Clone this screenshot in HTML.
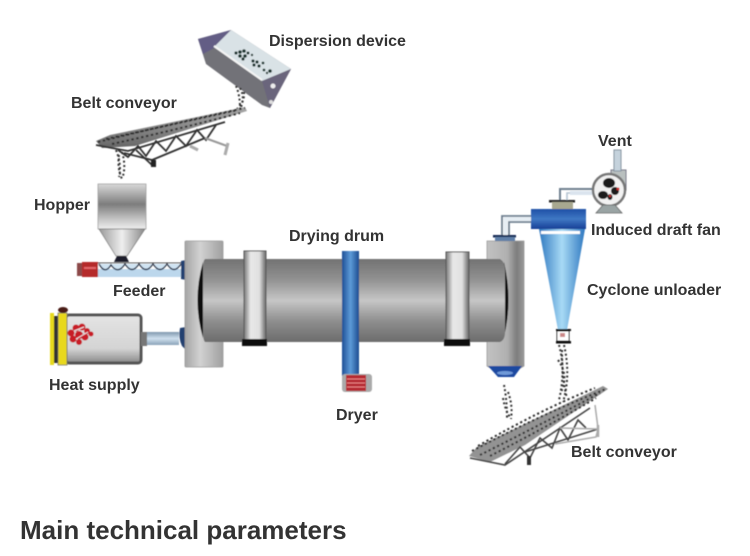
<!DOCTYPE html>
<html><head><meta charset="utf-8"><style>
html,body{margin:0;padding:0;background:#fff;width:750px;height:556px;overflow:hidden}
svg{display:block}
text{font-family:"Liberation Sans",sans-serif;font-weight:bold;fill:#333;font-size:16px}
</style></head><body>
<svg width="750" height="556" viewBox="0 0 750 556" xmlns="http://www.w3.org/2000/svg">
<defs>
<linearGradient id="drum" x1="0" y1="0" x2="0" y2="1"><stop offset="0" stop-color="#727272"/><stop offset=".25" stop-color="#929292"/><stop offset=".5" stop-color="#c6c6c6"/><stop offset=".75" stop-color="#8e8e8e"/><stop offset="1" stop-color="#6c6c6c"/></linearGradient>
<linearGradient id="flangeL" x1="0" y1="0" x2="1" y2="0"><stop offset="0" stop-color="#a5a5a5"/><stop offset=".4" stop-color="#d2d2d2"/><stop offset="1" stop-color="#a0a0a0"/></linearGradient>
<linearGradient id="flangeR" x1="0" y1="0" x2="1" y2="0"><stop offset="0" stop-color="#c2c2c2"/><stop offset=".55" stop-color="#b0b0b0"/><stop offset=".8" stop-color="#7d7d7d"/><stop offset="1" stop-color="#9a9a9a"/></linearGradient>
<linearGradient id="ring" x1="0" y1="0" x2="1" y2="0"><stop offset="0" stop-color="#777"/><stop offset=".3" stop-color="#e8e8e8"/><stop offset=".7" stop-color="#e0e0e0"/><stop offset="1" stop-color="#666"/></linearGradient>
<linearGradient id="blueRing" x1="0" y1="0" x2="1" y2="0"><stop offset="0" stop-color="#1f4f96"/><stop offset=".5" stop-color="#5d9bd8"/><stop offset="1" stop-color="#1d4c90"/></linearGradient>
<linearGradient id="cone" x1="0" y1="0" x2="1" y2="0"><stop offset="0" stop-color="#2f78c0"/><stop offset=".5" stop-color="#a8daf5"/><stop offset="1" stop-color="#2f78c0"/></linearGradient>
<linearGradient id="coneV" x1="0" y1="0" x2="0" y2="1"><stop offset="0" stop-color="#1f4fa6"/><stop offset=".5" stop-color="#3f78c4"/><stop offset="1" stop-color="#173f96"/></linearGradient>
<linearGradient id="hopper" x1="0" y1="0" x2="0" y2="1"><stop offset="0" stop-color="#d8d8d8"/><stop offset=".45" stop-color="#7d7d7d"/><stop offset=".8" stop-color="#c8c8c8"/><stop offset="1" stop-color="#eee"/></linearGradient>
<linearGradient id="hopCone" x1="0" y1="0" x2="1" y2="0"><stop offset="0" stop-color="#999"/><stop offset=".5" stop-color="#eee"/><stop offset="1" stop-color="#888"/></linearGradient>
<linearGradient id="heat" x1="0" y1="0" x2="0" y2="1"><stop offset="0" stop-color="#e4e4e4"/><stop offset=".7" stop-color="#d4d4d4"/><stop offset="1" stop-color="#888"/></linearGradient>
<linearGradient id="pipe" x1="0" y1="0" x2="0" y2="1"><stop offset="0" stop-color="#7f97ad"/><stop offset=".5" stop-color="#cfe0ee"/><stop offset="1" stop-color="#8aa2b8"/></linearGradient>
<linearGradient id="belt" x1="0" y1="0" x2="0" y2="1"><stop offset="0" stop-color="#aaa"/><stop offset="1" stop-color="#666"/></linearGradient>
<filter id="soft"><feGaussianBlur stdDeviation=".5"/></filter>
</defs>

<g filter="url(#soft)">
<!-- dispersion device -->
<polygon points="198,39 231,30 291,69 270,108 262,105 206,64" fill="#727278"/>
<polygon points="198,39 231,30 216,47 203,54" fill="#635d85"/>
<polygon points="231,30 291,69 262,81 214,47" fill="#d9e2e6"/>
<polygon points="262,81 291,69 270,108" fill="#6a657c"/>
<line x1="214" y1="46" x2="262" y2="80" stroke="#f4f4f4" stroke-width="2"/>
<g fill="#14302a"><circle cx="236" cy="53" r="1.6"/><circle cx="240" cy="52" r="1.8"/><circle cx="244" cy="51" r="1.8"/><circle cx="248" cy="53" r="1.5"/><circle cx="252" cy="55" r="1.2"/><circle cx="240" cy="56" r="1.8"/><circle cx="245" cy="56" r="1.8"/><circle cx="243" cy="59" r="1.6"/><circle cx="253" cy="61" r="1.6"/><circle cx="257" cy="62" r="1.6"/><circle cx="263" cy="63" r="1.4"/><circle cx="254" cy="65" r="1.6"/><circle cx="259" cy="66" r="1.6"/><circle cx="264" cy="70" r="1.4"/><circle cx="270" cy="71" r="1.8"/><circle cx="267" cy="73" r="1.2"/></g>
<circle cx="273" cy="86" r="2.5" fill="#eee"/><circle cx="271" cy="102" r="2" fill="#ddd"/>

<!-- falling material upper -->
<g fill="none" stroke="#333" stroke-width="2" stroke-dasharray="2 2.4">
<path d="M236,86 Q240,95 240,108"/><path d="M240,88 Q246,98 239,112"/><path d="M244,92 Q245,102 236,110"/>
<path d="M116,150 Q122,165 119,177"/><path d="M122,152 Q126,165 123,176"/><path d="M119,155 Q117,168 122,179"/>
</g>

<!-- upper conveyor -->
<polygon points="96,141 110,135 245,107 247,111 135,146 102,148" fill="url(#belt)"/>
<g fill="none" stroke="#2e2e2e" stroke-width="2" stroke-dasharray="2.400 2.600">
<path d="M98,142 Q170,124 245,108"/><path d="M106,139 Q170,125 238,110"/><path d="M112,144 Q175,130 240,113"/>
</g>
<g fill="none" stroke="#333" stroke-width="1.800">
<path d="M96,145 L112,148 L128,151 L225,122"/>
<path d="M118,150 L128,157 L138,146 L146,156 L156,141 L166,151 L176,136 L186,146 L197,130 L206,140 L216,125"/>
<path d="M124,153 L152,160 L205,138"/>
<path d="M136,150 L153,166"/>
</g>
<path d="M205,138 L227,146" stroke="#999" stroke-width="2"/>
<rect x="151" y="160" width="5" height="7" fill="#222"/>
<path d="M228,143 L225,155" stroke="#aaa" stroke-width="3"/>
<path d="M190,146 L198,150" stroke="#aaa" stroke-width="3"/>

<!-- hopper -->
<rect x="98" y="184" width="48" height="45" fill="url(#hopper)" stroke="#999" stroke-width=".7"/>
<polygon points="99,229 145,229 127,256 116,256" fill="url(#hopCone)" stroke="#777" stroke-width=".7"/>
<polygon points="117,256 126,256 129,262 114,262" fill="#1a1a2a"/>

<!-- feeder -->
<rect x="98" y="263" width="84" height="6" fill="#fff"/>
<rect x="98" y="269" width="84" height="8" fill="#bcd7ec"/>
<path d="M99,264 Q105,275 111,265 Q118,275 125,264 Q132,275 139,264 Q146,275 153,264 Q160,275 167,264 Q174,275 181,264" fill="#cfe3f2" stroke="#22304c" stroke-width="1.500"/>
<line x1="98" y1="263" x2="182" y2="263" stroke="#333" stroke-width="1"/>
<rect x="77" y="263" width="6" height="13" fill="#8c4a48"/>
<rect x="82" y="262" width="16" height="15" fill="#b52a2a"/>
<rect x="84" y="267" width="12" height="2" fill="#e4686a"/>
<path d="M181,261 L186,260 L186,280 L181,279 Z" fill="#24406f"/>

<!-- heat supply -->
<rect x="66" y="315" width="75" height="48" rx="3" fill="url(#heat)" stroke="#555" stroke-width="3"/>
<rect x="50" y="313" width="4" height="52" fill="#e6d91d"/>
<rect x="54" y="316" width="6" height="47" fill="#333"/>
<rect x="58" y="313" width="9" height="52" fill="#e8d81b" stroke="#776" stroke-width=".8"/>
<ellipse cx="63" cy="310" rx="5" ry="3" fill="#4a1c18"/>
<g fill="#c81f28"><circle cx="71" cy="333" r="3.500"/><circle cx="76" cy="328" r="3.500"/><circle cx="82" cy="327" r="3.500"/><circle cx="87" cy="331" r="3"/><circle cx="73" cy="339" r="3.500"/><circle cx="79" cy="335" r="4"/><circle cx="85" cy="337" r="3.500"/><circle cx="91" cy="334" r="2.500"/><circle cx="79" cy="342" r="3"/></g>
<path d="M74,331 L84,327 M76,339 L88,332" stroke="#eee" stroke-width="1"/>
<rect x="141" y="332" width="6" height="14" fill="#777"/>
<rect x="147" y="332" width="32" height="13" fill="url(#pipe)"/>
<path d="M180,328 Q178,338 182,346 L186,350 L186,327 Z" fill="#24406f"/>

<!-- left flange -->
<rect x="185" y="241" width="38" height="126" rx="1" fill="url(#flangeL)" stroke="#999" stroke-width=".8"/>

<!-- right flange -->
<path d="M487,241 L524,241 L524,366 L514,372 L497,372 L487,366 Z" fill="url(#flangeR)" stroke="#999" stroke-width=".8"/>

<!-- drum -->
<path d="M203,262 Q192,300 203,338 Z" fill="#0d0d0d"/>
<path d="M504,262 Q513,300 504,337 Z" fill="#111"/>
<path d="M205,259 L500,259 Q505,262 505,270 L505,332 Q505,340 500,342 L205,342 Q203,340 203,332 L203,268 Q203,261 205,259 Z" fill="url(#drum)"/>

<!-- rings -->
<rect x="244" y="251" width="22" height="91" fill="url(#ring)" stroke="#555"/>
<rect x="242" y="339" width="25" height="7" fill="#111"/>
<rect x="446" y="252" width="23" height="90" fill="url(#ring)" stroke="#555"/>
<rect x="444" y="339" width="26" height="7" fill="#111"/>

<!-- centre blue ring -->
<rect x="342" y="251" width="17" height="125" fill="url(#blueRing)"/>
<rect x="342" y="374" width="30" height="18" rx="3" fill="#aaa"/>
<rect x="346" y="375" width="20" height="16" fill="#b52a30"/>
<path d="M347,379 H365 M347,383 H365 M347,387 H365" stroke="#e88" stroke-width="1"/>

<!-- flange bottom nozzle -->
<path d="M488,366 L522,366 L514,377 L498,377 Z" fill="#1d4aa0"/>
<ellipse cx="505" cy="373" rx="8" ry="2" fill="#6f9ad8"/>
<rect x="493" y="235" width="23" height="2.500" fill="#152a55"/>
<rect x="495" y="237" width="20" height="4" fill="#5f7fa8"/>

<!-- pipes cyclone to flange -->
<path d="M531,216 L502,216 L502,235" fill="none" stroke="#6e7f8f" stroke-width="1.800"/>
<path d="M531,222 L509,222 L509,235" fill="none" stroke="#6e7f8f" stroke-width="1.800"/>
<path d="M531,219 L505.500,219 L505.500,235" fill="none" stroke="#e6eef4" stroke-width="4"/>

<!-- cyclone -->
<polygon points="539,229 585,229 567,330 558,330" fill="url(#cone)"/>
<rect x="531" y="209" width="55" height="20" fill="url(#coneV)"/>
<rect x="541" y="231" width="39" height="3" fill="#fff"/>
<rect x="549" y="200" width="26" height="2.500" fill="#222"/>
<rect x="552" y="202" width="21" height="7" fill="#a8a890"/>
<rect x="556" y="329" width="15" height="2" fill="#111"/>
<rect x="556" y="341" width="15" height="2.500" fill="#111"/>
<rect x="557" y="331" width="12" height="10" fill="#fff" stroke="#111"/>
<rect x="560" y="333" width="5" height="4" fill="#c88"/>

<!-- fan -->
<path d="M560,200 L560,189 L594,189" fill="none" stroke="#6e7f8f" stroke-width="2"/>
<path d="M567,200 L567,193 L594,193" fill="none" stroke="#b5c4d2" stroke-width="1.600"/>
<rect x="570" y="191" width="24" height="4" fill="#dbe4ee"/>
<path d="M611,170 L626,170 L626,190 L620,200 L611,176 Z" fill="#b9c0bf" stroke="#778" stroke-width="1"/>
<rect x="614" y="150" width="7" height="21" fill="#c5d2dc" stroke="#8493a0" stroke-width="1"/>
<circle cx="609" cy="190" r="16" fill="#f2f2f2" stroke="#777" stroke-width="2.500"/>
<g fill="#1a1a1a"><ellipse cx="609" cy="183" rx="6" ry="5"/><ellipse cx="615" cy="191" rx="4" ry="4"/><ellipse cx="603" cy="195" rx="5" ry="4"/><ellipse cx="610" cy="197" rx="2.500" ry="3"/></g>
<circle cx="618" cy="189" r="1.500" fill="#c33"/><circle cx="610" cy="196" r="1.200" fill="#c33"/>
<path d="M603,205 L615,205 L622,213 L596,213 Z" fill="#9aa4a4" stroke="#666" stroke-width=".8"/>

<!-- falling material lower -->
<g fill="none" stroke="#333" stroke-width="2" stroke-dasharray="2 2.400">
<path d="M559,345 Q566,370 559,400"/><path d="M564,345 Q571,375 563,402"/><path d="M562,350 Q562,380 567,398"/><path d="M558,360 Q569,375 561,392"/>
<path d="M504,385 Q507,400 507,418"/><path d="M508,392 Q513,405 511,419"/><path d="M503,398 Q505,410 510,417"/>
</g>

<!-- lower conveyor -->
<polygon points="469,456 477,447 603,386 608,389 525,445 490,462" fill="#939393"/>
<g fill="none" stroke="#2e2e2e" stroke-width="2" stroke-dasharray="2.200 2.600">
<path d="M472,451 Q540,415 606,389"/><path d="M478,446 Q540,410 595,388"/><path d="M480,455 Q540,425 600,393"/><path d="M490,456 Q545,428 596,398"/>
</g>
<g fill="none" stroke="#444" stroke-width="1.600">
<path d="M470,458 L505,465 L590,408"/>
<path d="M505,464 L520,447 L530,458 L540,438 L552,448 L560,428 L568,440 L578,420 L586,428"/>
<path d="M525,452 L598,429"/>
</g>
<g fill="none" stroke="#aaa" stroke-width="1.500"><path d="M560,428 L598,429 L596,437 L555,444"/><line x1="598" y1="425" x2="598" y2="437" stroke-width="2.500"/><path d="M595,405 L598,428"/></g>
<rect x="527" y="456" width="4" height="9" fill="#333"/>
</g>

<!-- labels -->
<text x="269" y="46">Dispersion device</text>
<text x="71" y="108">Belt conveyor</text>
<text x="34" y="210">Hopper</text>
<text x="289" y="241">Drying drum</text>
<text x="113" y="296">Feeder</text>
<text x="49" y="390">Heat supply</text>
<text x="336" y="420">Dryer</text>
<text x="571" y="457">Belt conveyor</text>
<text x="598" y="146">Vent</text>
<text x="591" y="235">Induced draft fan</text>
<text x="587" y="295">Cyclone unloader</text>
<text x="20" y="539" style="font-size:26px">Main technical parameters</text>
</svg>
</body></html>
